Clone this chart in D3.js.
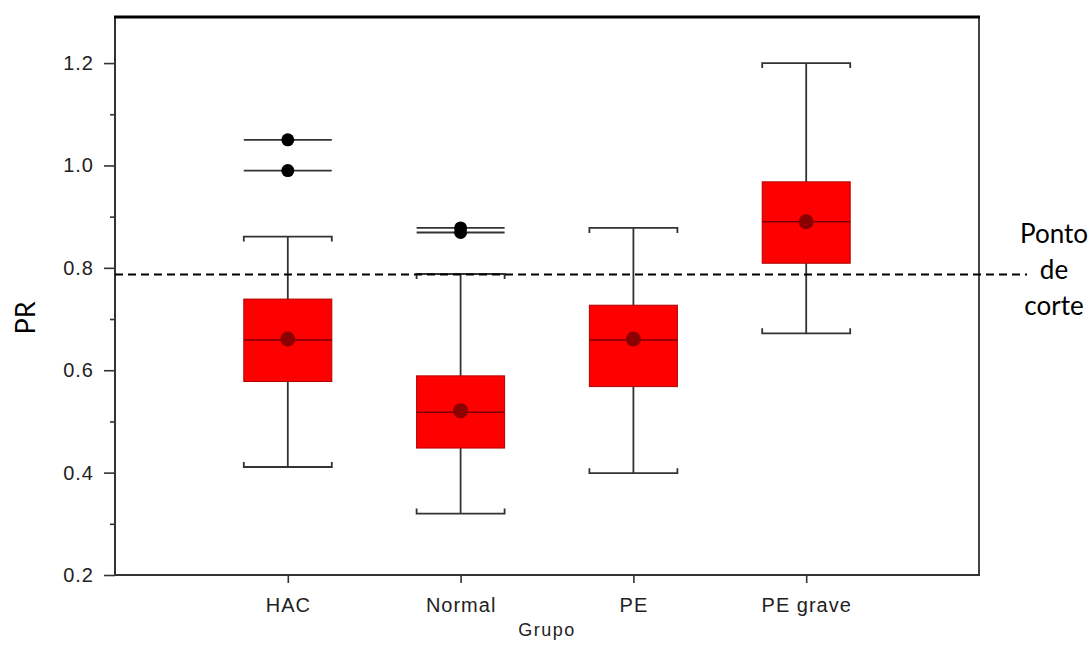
<!DOCTYPE html>
<html>
<head>
<meta charset="utf-8">
<script src="https://cdn.jsdelivr.net/npm/d3@7"></script>
<style>
  body { margin: 0; background: #fff; }
  svg { display: block; }
  .tick text { font-family: "Liberation Sans", Arial, sans-serif; fill: #222; }
</style>
</head>
<body>
<div id="chart"></div>
<script>
// box plot data (PR by group)
const categories = ["HAC", "Normal", "PE", "PE grave"];
const whiskerLow = [0.411, 0.320, 0.399, 0.672];
const q1 = [0.578, 0.448, 0.568, 0.809];
const median = [0.659, 0.518, 0.659, 0.890];
const q3 = [0.739, 0.589, 0.727, 0.968];
const whiskerHigh = [0.861, 0.788, 0.878, 1.200];
const means = [0.661, 0.521, 0.661, 0.890];
const outliers = [[1.05, 0.99], [0.878, 0.869], [], []];
const cutoff = 0.787;
const yMajor = [0.2, 0.4, 0.6, 0.8, 1.0, 1.2];
const yMinor = [0.3, 0.5, 0.7, 0.9, 1.1];

const W = 1092, H = 648;
const mLeft = 115, mRight = 979, mTop = 17, mBottom = 575;
const boxW = 88;

const svg = d3.select("#chart").append("svg")
  .attr("width", W).attr("height", H);

const x = d3.scaleLinear().domain([0, 5]).range([mLeft, mRight]);
const y = d3.scaleLinear().domain([0.2, 1.29]).range([mBottom, mTop]);

const data = categories.map((c, i) => ({
  name: c, pos: i + 1,
  lo: whiskerLow[i], q1: q1[i], med: median[i], q3: q3[i], hi: whiskerHigh[i],
  mean: means[i], out: outliers[i]
}));

// y axis with major + minor ticks
const yAxis = svg.append("g")
  .attr("transform", `translate(${mLeft},0)`)
  .call(d3.axisLeft(y).tickValues(yMajor).tickSize(11).tickPadding(10)
    .tickFormat(d3.format(".1f")));
yAxis.selectAll(".tick text").attr("font-size", 20).attr("letter-spacing", "1px");
yAxis.select(".domain").remove();
yAxis.selectAll(".tick line").attr("stroke", "#333").attr("stroke-width", 1.6);

const yMin = svg.append("g")
  .attr("transform", `translate(${mLeft},0)`)
  .call(d3.axisLeft(y).tickValues(yMinor).tickSize(5).tickFormat(""));
yMin.select(".domain").remove();
yMin.selectAll(".tick line").attr("stroke", "#333").attr("stroke-width", 1.6);

// x axis
const xAxis = svg.append("g")
  .attr("transform", `translate(0,${mBottom})`)
  .call(d3.axisBottom(x).tickValues(data.map(d => d.pos)).tickSize(8)
    .tickFormat((d, i) => categories[i]));
xAxis.select(".domain").remove();
xAxis.selectAll(".tick line").attr("stroke", "#333").attr("stroke-width", 1.6);
xAxis.selectAll(".tick text")
  .attr("y", 37).attr("dy", 0)
  .attr("font-size", 20).attr("letter-spacing", "1px");

// frame
svg.append("line").attr("x1", mLeft).attr("x2", mLeft).attr("y1", mTop).attr("y2", mBottom)
  .attr("stroke", "#333").attr("stroke-width", 2);
svg.append("line").attr("x1", mRight).attr("x2", mRight).attr("y1", mTop).attr("y2", mBottom)
  .attr("stroke", "#444").attr("stroke-width", 2);
svg.append("line").attr("x1", mLeft).attr("x2", mRight + 1).attr("y1", mBottom).attr("y2", mBottom)
  .attr("stroke", "#333").attr("stroke-width", 2);
svg.append("line").attr("x1", mLeft - 1).attr("x2", mRight + 1).attr("y1", mTop).attr("y2", mTop)
  .attr("stroke", "#000").attr("stroke-width", 3.2);

const g = svg.append("g").selectAll("g").data(data).join("g");
const line = "#333";

// whiskers
g.append("line")
  .attr("x1", d => x(d.pos)).attr("x2", d => x(d.pos))
  .attr("y1", d => y(d.hi)).attr("y2", d => y(d.lo))
  .attr("stroke", line).attr("stroke-width", 1.8);

// caps with small end ticks
g.append("path")
  .attr("d", d => {
    const x0 = x(d.pos) - boxW / 2, x1 = x(d.pos) + boxW / 2, yy = y(d.hi);
    return `M${x0},${yy + 5}V${yy}H${x1}V${yy + 5}`;
  })
  .attr("fill", "none").attr("stroke", line).attr("stroke-width", 1.8);
g.append("path")
  .attr("d", d => {
    const x0 = x(d.pos) - boxW / 2, x1 = x(d.pos) + boxW / 2, yy = y(d.lo);
    return `M${x0},${yy - 5}V${yy}H${x1}V${yy - 5}`;
  })
  .attr("fill", "none").attr("stroke", line).attr("stroke-width", 1.8);

// boxes
g.append("rect")
  .attr("x", d => x(d.pos) - boxW / 2)
  .attr("y", d => y(d.q3))
  .attr("width", boxW)
  .attr("height", d => y(d.q1) - y(d.q3))
  .attr("fill", "#ff0000").attr("stroke", "#b00000").attr("stroke-width", 1);

g.append("line")
  .attr("x1", d => x(d.pos) - boxW / 2).attr("x2", d => x(d.pos) + boxW / 2)
  .attr("y1", d => y(d.med)).attr("y2", d => y(d.med))
  .attr("stroke", "#7a0000").attr("stroke-width", 1.6);

g.append("circle")
  .attr("cx", d => x(d.pos)).attr("cy", d => y(d.mean))
  .attr("r", 7.5).attr("fill", "#8b0000");

// outliers: line across box width with a dot
const og = g.selectAll(".out").data(d => d.out.map(v => ({ pos: d.pos, v })))
  .join("g").attr("class", "out");
og.append("line")
  .attr("x1", d => x(d.pos) - boxW / 2).attr("x2", d => x(d.pos) + boxW / 2)
  .attr("y1", d => y(d.v)).attr("y2", d => y(d.v))
  .attr("stroke", line).attr("stroke-width", 1.8);
og.append("circle")
  .attr("cx", d => x(d.pos)).attr("cy", d => y(d.v))
  .attr("r", 6.5).attr("fill", "#000");

// cutoff line
svg.append("line")
  .attr("x1", mLeft).attr("x2", 1027)
  .attr("y1", y(cutoff)).attr("y2", y(cutoff))
  .attr("stroke", "#000").attr("stroke-width", 1.8)
  .attr("stroke-dasharray", "8,5");

// labels
svg.append("text")
  .attr("transform", `translate(35,318) rotate(-90)`)
  .attr("text-anchor", "middle")
  .attr("font-family", "Lato, 'Open Sans', sans-serif")
  .attr("font-size", 27).attr("fill", "#000")
  .text("PR");

svg.append("text")
  .attr("x", 547).attr("y", 636)
  .attr("text-anchor", "middle")
  .attr("font-family", "'Liberation Sans', Arial, sans-serif")
  .attr("font-size", 18).attr("letter-spacing", "1.5px").attr("fill", "#222")
  .text("Grupo");

const note = svg.append("text")
  .attr("text-anchor", "middle")
  .attr("font-family", "Lato, 'Open Sans', sans-serif")
  .attr("font-size", 26).attr("fill", "#000");
["Ponto", "de", "corte"].forEach((t, i) => {
  note.append("tspan").attr("x", 1054).attr("y", 243 + i * 36).text(t);
});
</script>
</body>
</html>
